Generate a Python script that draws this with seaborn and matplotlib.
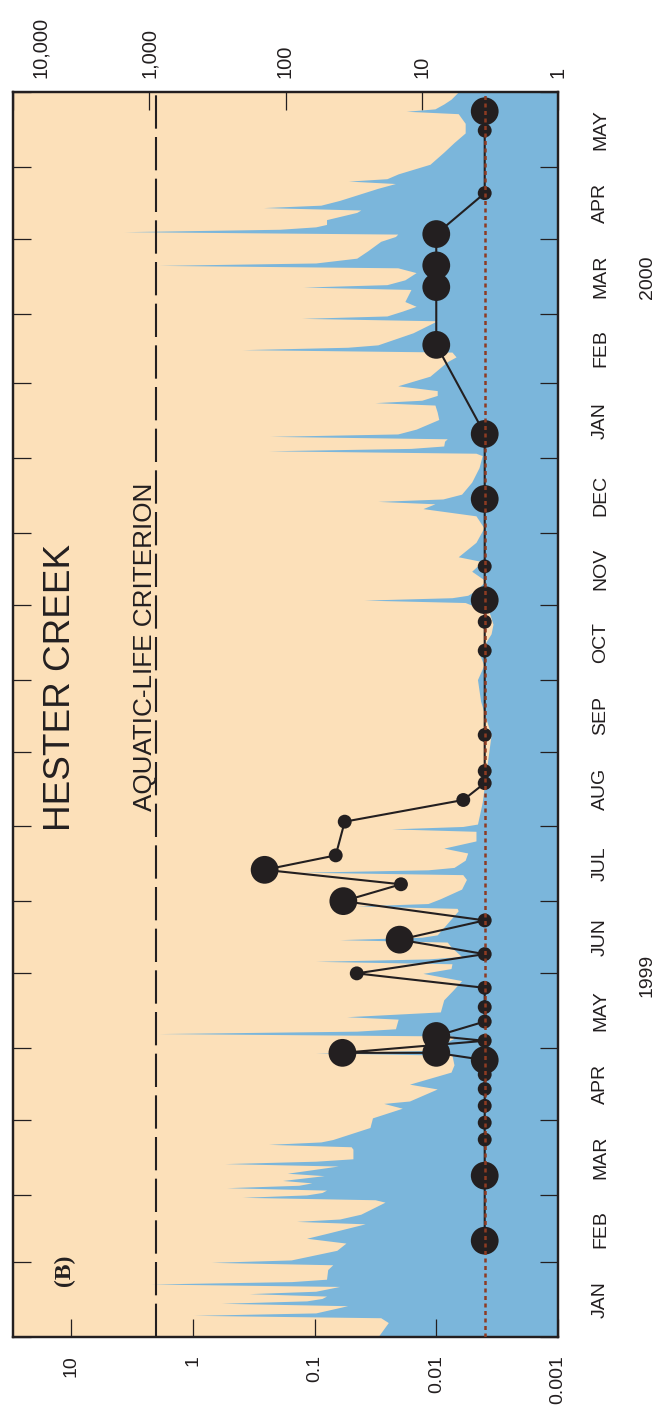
import matplotlib
matplotlib.use("Agg")
import numpy as np
import pandas as pd
import matplotlib.pyplot as plt
import matplotlib.dates as mdates
import matplotlib.ticker as mticker
from matplotlib.transforms import blended_transform_factory, ScaledTranslation
import seaborn as sns

sns.set_style("ticks")
plt.rcParams["font.family"] = ["Liberation Sans", "DejaVu Sans"]

# ---- streamflow record (discharge, cubic feet per second) ----
flow_dates = [
    "1999-01-01", "1999-01-07", "1999-01-09", "1999-01-10", "1999-01-11", "1999-01-14",
    "1999-01-15", "1999-01-16", "1999-01-17", "1999-01-18", "1999-01-19", "1999-01-20",
    "1999-01-22", "1999-01-23", "1999-01-24", "1999-01-25", "1999-01-29", "1999-01-31",
    "1999-02-01", "1999-02-02", "1999-02-06", "1999-02-09", "1999-02-11", "1999-02-13",
    "1999-02-17", "1999-02-18", "1999-02-19", "1999-02-21", "1999-02-26", "1999-02-27",
    "1999-02-28", "1999-03-01", "1999-03-02", "1999-03-03", "1999-03-04", "1999-03-05",
    "1999-03-06", "1999-03-07", "1999-03-09", "1999-03-10", "1999-03-13", "1999-03-14",
    "1999-03-15", "1999-03-16", "1999-03-20", "1999-03-21", "1999-03-22", "1999-03-23",
    "1999-03-24", "1999-03-29", "1999-04-02", "1999-04-06", "1999-04-08", "1999-04-09",
    "1999-04-14", "1999-04-16", "1999-04-21", "1999-04-24", "1999-04-28", "1999-04-29",
    "1999-04-30", "1999-05-05", "1999-05-06", "1999-05-07", "1999-05-08", "1999-05-09",
    "1999-05-13", "1999-05-14", "1999-05-16", "1999-05-21", "1999-05-25", "1999-05-29",
    "1999-06-01", "1999-06-03", "1999-06-05", "1999-06-06", "1999-06-07", "1999-06-08",
    "1999-06-12", "1999-06-14", "1999-06-15", "1999-06-16", "1999-06-17", "1999-06-27",
    "1999-06-28", "1999-06-29", "1999-06-30", "1999-07-02", "1999-07-06", "1999-07-10",
    "1999-07-12", "1999-07-13", "1999-07-14", "1999-07-15", "1999-07-18", "1999-07-21",
    "1999-07-23", "1999-07-26", "1999-07-30", "1999-07-31", "1999-08-01", "1999-08-02",
    "1999-08-11", "1999-08-22", "1999-09-08", "1999-09-22", "1999-10-01", "1999-10-07",
    "1999-10-12", "1999-10-20", "1999-10-24", "1999-10-29", "1999-11-02", "1999-11-03",
    "1999-11-04", "1999-11-05", "1999-11-07", "1999-11-11", "1999-11-15", "1999-11-19",
    "1999-11-21", "1999-11-27", "1999-12-03", "1999-12-08", "1999-12-11", "1999-12-13",
    "1999-12-14", "1999-12-15", "1999-12-17", "1999-12-22", "1999-12-28", "2000-01-02",
    "2000-01-03", "2000-01-04", "2000-01-05", "2000-01-06", "2000-01-08", "2000-01-09",
    "2000-01-10", "2000-01-11", "2000-01-13", "2000-01-17", "2000-01-20", "2000-01-23",
    "2000-01-24", "2000-01-25", "2000-01-27", "2000-01-29", "2000-01-31", "2000-02-04",
    "2000-02-10", "2000-02-12", "2000-02-14", "2000-02-15", "2000-02-16", "2000-02-17",
    "2000-02-22", "2000-02-27", "2000-02-28", "2000-02-29", "2000-03-02", "2000-03-04",
    "2000-03-06", "2000-03-11", "2000-03-12", "2000-03-13", "2000-03-15", "2000-03-18",
    "2000-03-20", "2000-03-21", "2000-03-22", "2000-03-24", "2000-03-27", "2000-03-31",
    "2000-04-02", "2000-04-03", "2000-04-04", "2000-04-05", "2000-04-06", "2000-04-07",
    "2000-04-09", "2000-04-12", "2000-04-13", "2000-04-14", "2000-04-15", "2000-04-17",
    "2000-04-22", "2000-04-24", "2000-04-25", "2000-04-26", "2000-04-28", "2000-05-02",
    "2000-05-07", "2000-05-11", "2000-05-15", "2000-05-19", "2000-05-23", "2000-05-24",
    "2000-05-25", "2000-05-27", "2000-05-29", "2000-06-01",
]
flow_cfs = [
    21, 17.6, 20, 470, 60, 35,
    295, 70, 54, 50, 184, 60,
    40, 980, 90, 50, 49, 45,
    350, 91, 42, 36, 70, 50,
    26, 83, 40, 28, 18.6, 22,
    207, 70, 54, 50, 270, 80,
    64, 105, 52, 97, 41, 278,
    60, 32, 32, 33, 133, 55,
    45, 24, 23, 13.9, 19, 12.3,
    7.7, 12.3, 6.1, 5.8, 6, 60,
    9, 5.8, 6, 850, 30, 15.6,
    14.9, 35.5, 7.3, 6.9, 5.9, 5.1,
    9.8, 6.1, 6, 60, 9, 5.1,
    6.1, 6.5, 40, 10, 7.7, 5.4,
    5.5, 30, 9, 7.3, 5.1, 4.7,
    5, 76, 9, 5.8, 4.8, 4.6,
    6.9, 4.0, 4.0, 16.6, 5, 3.9,
    3.6, 3.4, 3.1, 3.7, 3.9, 3.5,
    3.8, 3.1, 3.0, 3.2, 4.8, 26.5,
    6, 4.6, 4.0, 3.4, 4.3, 3.6,
    5.4, 4.0, 3.5, 4.0, 9.8, 8,
    21, 7, 5.1, 4.3, 3.8, 3.6,
    4, 133, 12, 6.9, 6.8, 6.5,
    130, 15, 11, 7.5, 7.7, 8,
    22, 10, 7.7, 7.7, 15, 8.7,
    6.5, 5.6, 6, 207, 35, 21,
    11.6, 7.7, 76, 18, 13.9, 11,
    13.3, 12, 74, 18, 13.3, 11,
    15, 850, 60, 30, 25, 20,
    15.6, 15, 1525, 110, 60, 50,
    50, 30, 28, 145, 55, 40,
    21, 15.6, 34.5, 18, 14.9, 8.7,
    6.9, 5.8, 4.8, 4.8, 5.4, 13,
    8, 6.9, 6.1, 5.4,
]

# ---- water-quality samples ----
sample_dates = [
    "1999-02-10", "1999-03-09", "1999-03-24", "1999-03-31", "1999-04-07", "1999-04-14",
    "1999-04-20", "1999-04-26", "1999-04-29", "1999-04-29", "1999-05-04", "1999-05-06",
    "1999-05-12", "1999-05-18", "1999-05-26", "1999-06-01", "1999-06-09", "1999-06-15",
    "1999-06-23", "1999-07-01", "1999-07-08", "1999-07-14", "1999-07-20", "1999-08-03",
    "1999-08-12", "1999-08-19", "1999-08-24", "1999-09-08", "1999-10-13", "1999-10-25",
    "1999-11-03", "1999-11-17", "1999-12-15", "2000-01-11", "2000-02-17", "2000-03-12",
    "2000-03-21", "2000-04-03", "2000-04-20", "2000-05-16", "2000-05-24",
]
concentration = [
    0.004, 0.004, 0.004, 0.004, 0.004, 0.004,
    0.004, 0.004, 0.01, 0.059, 0.004, 0.01,
    0.004, 0.004, 0.004, 0.045, 0.004, 0.02,
    0.004, 0.058, 0.0195, 0.257, 0.067, 0.0565,
    0.006, 0.004, 0.004, 0.004, 0.004, 0.004,
    0.004, 0.004, 0.004, 0.004, 0.01, 0.01,
    0.01, 0.01, 0.004, 0.004, 0.004,
]
sample_kind = [
    "large", "large", "small", "small", "small", "small",
    "small", "large", "large", "large", "small", "large",
    "small", "small", "small", "small", "small", "large",
    "small", "large", "small", "large", "small", "small",
    "small", "small", "small", "small", "small", "small",
    "large", "small", "large", "large", "large", "large",
    "large", "large", "small", "small", "large",
]

criterion = 2.0
reporting_level = 0.004

conc_ticks = [10, 1, 0.1, 0.01, 0.001]
flow_ticks = [10000, 1000, 100, 10, 1]
month_labels = ["JAN", "FEB", "MAR", "APR", "MAY", "JUN", "JUL", "AUG", "SEP",
                "OCT", "NOV", "DEC", "JAN", "FEB", "MAR", "APR", "MAY"]
year_labels = ["1999", "2000"]
year_label_dates = ["1999-05-31", "2000-03-16"]

BEIGE = "#FCE0B9"
BLUE = "#7BB6DB"
INK = "#231F20"
BROWN = "#8E3B22"

# ---- figure and axes ----
W, H = 653, 1410
L, R, B, T = 13, 558, 1337, 92
fig = plt.figure(figsize=(W / 100, H / 100), dpi=100)
ax = fig.add_axes([L / W, 1 - B / H, (R - L) / W, (B - T) / H])
ax2 = ax.twiny()
ax.set_zorder(2)
ax.patch.set_visible(False)
ax2.set_zorder(1)
ax2.patch.set_visible(True)
ax2.set_facecolor(BEIGE)

# hydrograph on the discharge scale
fy = mdates.date2num(pd.to_datetime(flow_dates))
ax2.fill_betweenx(fy, flow_cfs, 1, color=BLUE, lw=0)
ax2.set_xscale("log")
ax2.set_xlim(1e4, 1)

# sample concentrations
df = pd.DataFrame({
    "date": mdates.date2num(pd.to_datetime(sample_dates)),
    "conc": concentration,
    "kind": sample_kind,
})
sns.lineplot(data=df, x="conc", y="date", sort=False, estimator=None,
             color=INK, lw=1.5, ax=ax, zorder=3)
sns.scatterplot(data=df, x="conc", y="date", size="kind",
                sizes={"large": 400, "small": 100}, color=INK, linewidth=0,
                legend=False, ax=ax, zorder=4)
ax.axvline(reporting_level, color=BROWN, lw=1.8, ls=(0, (1.6, 1.4)), zorder=5)
ax.axvline(criterion, color=INK, lw=1.5, ls=(0, (16, 4)), zorder=2.5)

ax.set_xscale("log")
ax.set_xlim(30, 0.001)
ax.set_ylim(mdates.date2num(pd.Timestamp("1999-01-01")),
            mdates.date2num(pd.Timestamp("2000-06-01")))
ax.set_xlabel("")
ax.set_ylabel("")
ax2.set_xlabel("")

# ticks
tick_kw = dict(direction="in", length=13, width=0.9, color=INK, labelcolor=INK)
ax.yaxis.set_major_locator(mdates.MonthLocator())
ax.yaxis.set_major_formatter(mticker.NullFormatter())
ax.yaxis.set_minor_locator(mticker.NullLocator())
ax.tick_params(axis="y", which="major", left=True, right=True,
               labelleft=False, labelright=False, **tick_kw)

ax.xaxis.set_major_locator(mticker.FixedLocator(conc_ticks))
ax.xaxis.set_major_formatter(mticker.FuncFormatter(lambda v, p: f"{v:g}"))
ax.xaxis.set_minor_locator(mticker.NullLocator())
ax.tick_params(axis="x", which="major", bottom=True, top=False,
               labelrotation=90, labelsize=14, pad=13, **tick_kw)

ax2.xaxis.set_major_locator(mticker.FixedLocator(flow_ticks))
ax2.xaxis.set_major_formatter(mticker.FuncFormatter(lambda v, p: f"{v:,.0f}"))
ax2.xaxis.set_minor_locator(mticker.NullLocator())
ax2.tick_params(axis="x", which="major", top=True, bottom=False,
                labelrotation=90, labelsize=14.5, pad=10, **tick_kw)

for a in (ax, ax2):
    for s in a.spines.values():
        s.set_linewidth(1.6)
        s.set_color(INK)

# month and year labels along the right side
starts = pd.date_range("1999-01-01", "2000-06-01", freq="MS")
mids = starts[:-1] + (starts[1:] - starts[:-1]) / 2
trans = blended_transform_factory(ax.transAxes, ax.transData)
for lab, d in zip(month_labels, mids):
    ax.text(1.0862, mdates.date2num(d), lab, transform=trans, rotation=90,
            rotation_mode="anchor", ha="center", va="baseline",
            fontsize=14, color=INK)
for lab, d in zip(year_labels, year_label_dates):
    ax.text(1.1719, mdates.date2num(pd.Timestamp(d)), lab, transform=trans,
            rotation=90, rotation_mode="anchor", ha="center", va="baseline",
            fontsize=14, color=INK)

# annotations
ax.text(0.1053, 0.5213, "HESTER CREEK", transform=ax.transAxes, rotation=90,
        rotation_mode="anchor", ha="center", va="baseline", fontsize=26.6, color=INK)
ax.text(0.255, 0.554, "AQUATIC-LIFE CRITERION", transform=ax.transAxes, rotation=90,
        rotation_mode="anchor", ha="center", va="baseline", fontsize=18.8, color=INK)
ax.text(0.0945, 0.0538, "(B)", transform=ax.transAxes, rotation=90,
        rotation_mode="anchor", ha="center", va="center", fontsize=17,
        fontweight="bold", family=["Liberation Serif", "DejaVu Serif"], color=INK)

# nudge the left-most discharge label inside the page
fig.canvas.draw()
first = ax2.xaxis.get_major_ticks()[0]
shift = ScaledTranslation(27 / 100, 0, fig.dpi_scale_trans)
for lbl in (first.label1, first.label2):
    lbl.set_transform(lbl.get_transform() + shift)

fig.savefig("out.png", dpi=100)
